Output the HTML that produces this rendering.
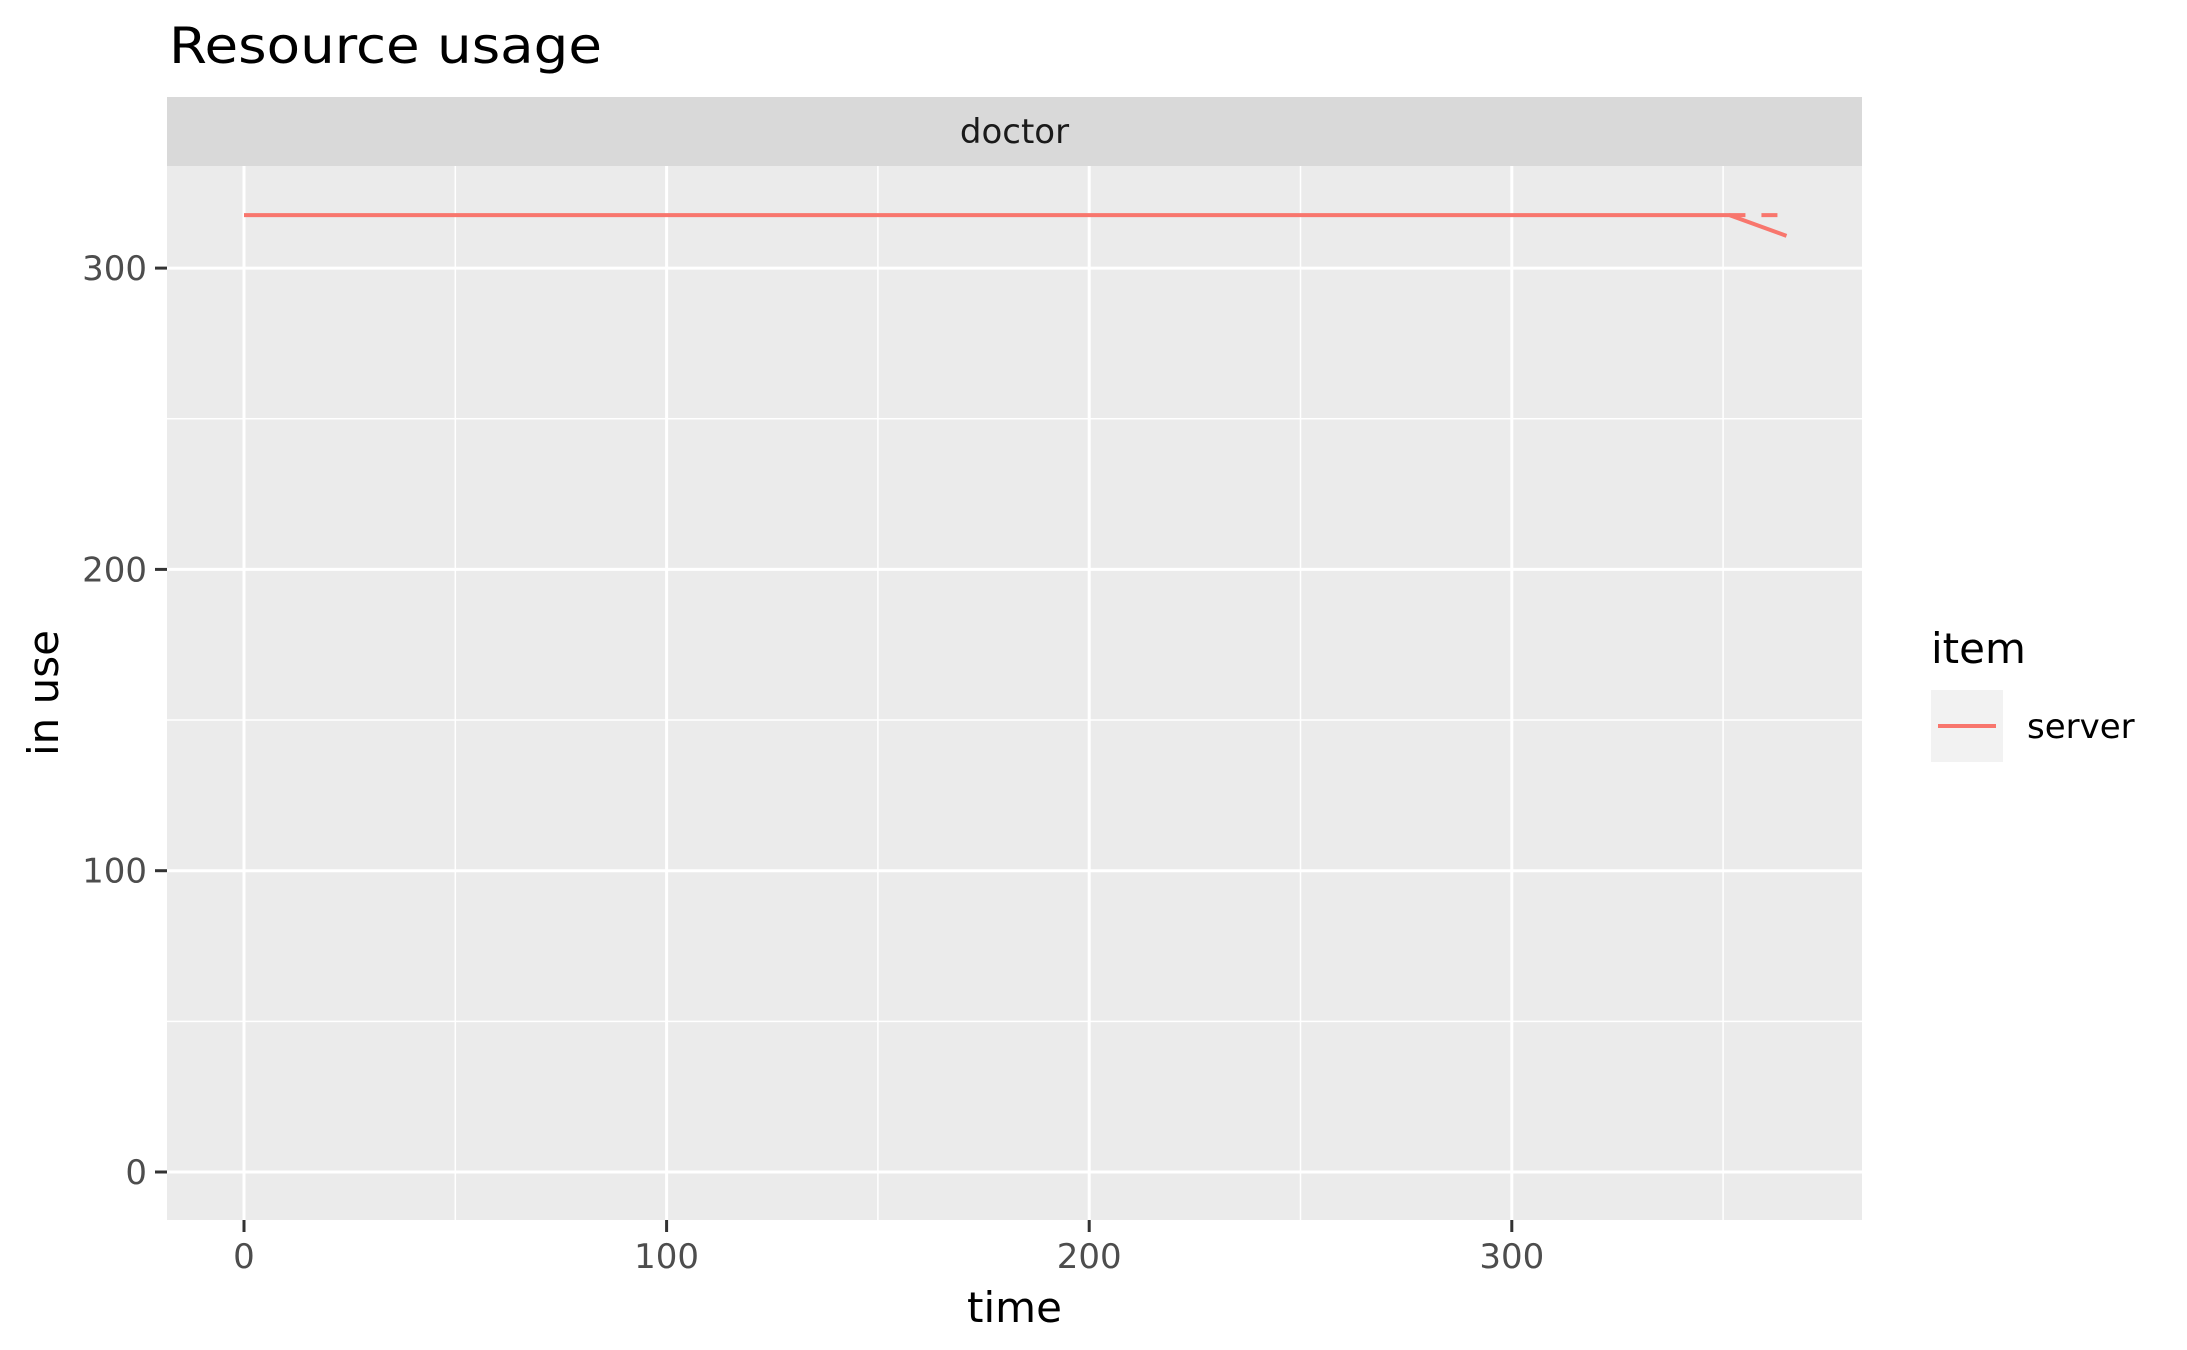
<!DOCTYPE html>
<html><head><meta charset="utf-8"><style>body{margin:0;background:#fff}svg{display:block}text{font-family:"DejaVu Sans","Liberation Sans",sans-serif}</style></head>
<body>
<svg id="chart" width="2187" height="1350" viewBox="0 0 2187 1350"></svg>
<script>
const xTicks = [0, 100, 200, 300];
const xMinor = [50, 150, 250, 350];
const yTicks = [0, 100, 200, 300];
const yMinor = [50, 150, 250];
const serverTime = [0, 351.5, 365];
const serverValue = [317.6, 317.6, 310.7];
const limitTime = [351.5, 365];
const limitValue = [317.6, 317.6];

const P = {l:167, r:1862, t:166, b:1220};
const xS = v => 244 + v * 4.226;
const yS = v => 1172 - v * 3.013;
const svg = document.getElementById('chart');
const NS = 'http://www.w3.org/2000/svg';
function mk(tag, attrs, parent) {
  const e = document.createElementNS(NS, tag);
  for (const k in attrs) e.setAttribute(k, attrs[k]);
  (parent || svg).appendChild(e);
  return e;
}
let e;
e = mk('text', {x:169, y:63, 'font-size':50, textLength:433, lengthAdjust:'spacingAndGlyphs', fill:'#000'});
e.textContent = 'Resource usage';


e = mk('rect', {x:P.l, y:97, width:P.r-P.l, height:69, fill:'#d9d9d9'});


e = mk('text', {x:(P.l+P.r)/2, y:143, 'font-size':34, 'text-anchor':'middle', fill:'#1a1a1a'});
e.textContent = 'doctor';


e = mk('rect', {x:P.l, y:P.t, width:P.r-P.l, height:P.b-P.t, fill:'#ebebeb'});


xMinor.forEach(v => { e = mk('line', {x1:xS(v), x2:xS(v), y1:P.t, y2:P.b, stroke:'#fff', 'stroke-width':1.5});
    });
yMinor.forEach(v => { e = mk('line', {x1:P.l, x2:P.r, y1:yS(v), y2:yS(v), stroke:'#fff', 'stroke-width':1.5});
    });
xTicks.forEach(v => {
  e = mk('line', {x1:xS(v), x2:xS(v), y1:P.t, y2:P.b, stroke:'#fff', 'stroke-width':3});
   
  e = mk('line', {x1:xS(v), x2:xS(v), y1:P.b, y2:P.b+12, stroke:'#333', 'stroke-width':3});
   
  e = mk('text', {x:xS(v), y:1268, 'font-size':34, 'text-anchor':'middle', fill:'#4d4d4d'});
  e.textContent = v;
   
});
yTicks.forEach(v => {
  e = mk('line', {x1:P.l, x2:P.r, y1:yS(v), y2:yS(v), stroke:'#fff', 'stroke-width':3});
   
  e = mk('line', {x1:P.l-12, x2:P.l, y1:yS(v), y2:yS(v), stroke:'#333', 'stroke-width':3});
   
  e = mk('text', {x:P.l-20, y:yS(v)+12, 'font-size':34, 'text-anchor':'end', fill:'#4d4d4d'});
  e.textContent = v;
   
});
e = mk('polyline', {points: serverTime.map((t,i)=>xS(t)+','+yS(serverValue[i])).join(' '), fill:'none', stroke:'#f8766d', 'stroke-width':4});
 
e = mk('polyline', {points: limitTime.map((t,i)=>xS(t)+','+yS(limitValue[i])).join(' '), fill:'none', stroke:'#f8766d', 'stroke-width':4, 'stroke-dasharray':'16 16'});
 
e = mk('text', {x:(P.l+P.r)/2, y:1322, 'font-size':42, 'text-anchor':'middle', fill:'#000'});
e.textContent = 'time';
 
e = mk('text', {x:0, y:0, 'font-size':42, 'text-anchor':'middle', fill:'#000', transform:'translate(58,693) rotate(-90)'});
e.textContent = 'in use';
 
e = mk('text', {x:1931, y:663, 'font-size':42, fill:'#000'});
e.textContent = 'item';
 
e = mk('rect', {x:1931, y:690, width:72, height:72, fill:'#f2f2f2'});
 
e = mk('line', {x1:1938, x2:1996, y1:726, y2:726, stroke:'#f8766d', 'stroke-width':4});
 
e = mk('text', {x:2027, y:738, 'font-size':34, fill:'#000'});
e.textContent = 'server';
 
</script>
</body></html>
